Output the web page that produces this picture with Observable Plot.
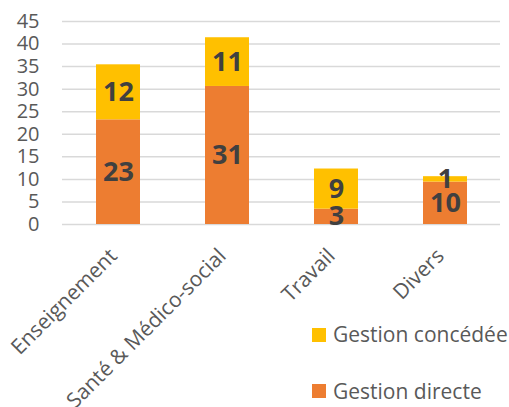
<!DOCTYPE html>
<html>
<head>
<meta charset="utf-8">
<script src="https://cdn.jsdelivr.net/npm/d3@7"></script>
<script src="https://cdn.jsdelivr.net/npm/@observablehq/plot@0.6"></script>
<style>
  html, body { margin: 0; padding: 0; background: #fff; }
  #wrap { position: relative; width: 509px; height: 407px; overflow: hidden; font-family: "Open Sans", sans-serif; }
  .leg { position: absolute; left: 312px; display: flex; align-items: center; font-size: 21px; line-height: 21px; color: #595959; white-space: nowrap; }
  .leg span.sw { display: inline-block; width: 14px; height: 14px; margin-right: 7px; }
</style>
</head>
<body>
<div id="wrap"></div>
<script>
const categories = ["Enseignement", "Santé & Médico-social", "Travail", "Divers"];
const seriesNames = ["Gestion directe", "Gestion concédée"];
const seriesColors = ["#ED7D31", "#FFC000"];
const directValues = [23.2, 30.6, 3.4, 9.4];
const concededValues = [12.2, 10.8, 8.9, 1.2];
const directLabels = [23, 31, 3, 10];
const concededLabels = [12, 11, 9, 1];
const yTicks = [0, 5, 10, 15, 20, 25, 30, 35, 40, 45];

const rows = [];
categories.forEach((c, i) => rows.push({cat: c, series: seriesNames[0], value: directValues[i], label: directLabels[i]}));
categories.forEach((c, i) => rows.push({cat: c, series: seriesNames[1], value: concededValues[i], label: concededLabels[i]}));

const chart = Plot.plot({
  width: 509,
  height: 407,
  marginLeft: 62,
  marginRight: 9,
  marginTop: 21,
  marginBottom: 183,
  style: {fontFamily: "Open Sans", color: "#595959", background: "transparent"},
  x: {domain: categories, paddingInner: 0.6, paddingOuter: 0.3, label: null},
  y: {domain: [0, 45], label: null},
  color: {domain: seriesNames, range: seriesColors},
  marks: [
    Plot.gridY(yTicks, {stroke: "#d9d9d9", strokeOpacity: 1, strokeWidth: 1.5}),
    Plot.barY(rows, {x: "cat", y: "value", fill: "series", order: seriesNames}),
    Plot.text(rows, Plot.stackY({x: "cat", y: "value", z: "series", order: seriesNames, text: "label", fill: "#404040", fontSize: 27, fontWeight: "bold"})),
    Plot.axisY(yTicks, {tickSize: 0, tickPadding: 23, fontSize: 20, label: null}),
    Plot.axisX({tickSize: 0, tickPadding: 28, dx: -5, tickRotate: -45, fontSize: 21, label: null})
  ]
});
const wrap = document.getElementById("wrap");
wrap.appendChild(chart);

const legendTops = [324, 380.5];
[1, 0].forEach((si, k) => {
  const d = document.createElement("div");
  d.className = "leg";
  d.style.top = legendTops[k] + "px";
  const sw = document.createElement("span");
  sw.className = "sw";
  sw.style.background = seriesColors[si];
  d.appendChild(sw);
  d.appendChild(document.createTextNode(seriesNames[si]));
  wrap.appendChild(d);
});
</script>
</body>
</html>
